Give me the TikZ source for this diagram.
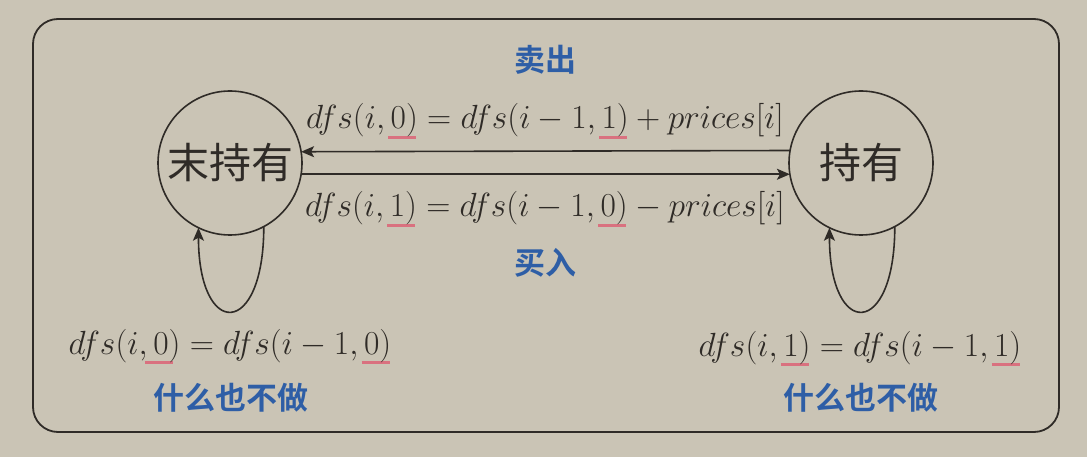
\RequirePackage{fix-cm}
\documentclass[tikz,border=0pt]{standalone}
\usepackage{fontspec}
\usetikzlibrary{arrows.meta}
\newfontfamily\cjk{Noto Sans CJK SC}
\newfontfamily\cjkb{Noto Sans CJK SC Bold}
\definecolor{bgc}{HTML}{CAC4B5}
\definecolor{inkc}{HTML}{2F2B27}
\definecolor{bluec}{HTML}{2E5EA6}
\definecolor{ulc}{HTML}{D9717F}
\newcommand\mk[2][8pt]{\mathord{\hbox{\ooalign{$#2$\cr\hidewidth\kern#1\textcolor{ulc}{\rule[-10pt]{28pt}{3.2pt}}\hidewidth\cr}}}}
\tikzset{
  state/.style={circle, draw=inkc, line width=1.6pt, minimum size=144pt, inner sep=0pt, outer sep=0pt, text=inkc, font=\cjk\fontsize{42}{46}\selectfont},
  conn/.style={draw=inkc, line width=1.6pt, -{Stealth[length=13pt,width=11pt,inset=3pt]}},
  eqn/.style={inner sep=0pt, anchor=base, text=inkc, font=\fontsize{33.5}{38}\selectfont},
  lab/.style={inner sep=0pt, text=bluec, font=\cjkb\fontsize{31}{34}\selectfont},
}
\begin{document}
\begin{tikzpicture}[x=1pt,y=-1pt]
\fill[bgc] (0,0) rectangle (1087,457);
\useasboundingbox (0,0) rectangle (1087,457);
\draw[inkc, line width=1.8pt, rounded corners=25pt] (33,19) rectangle (1059,432);

\node[state] (L) at (230,163) {末持有};
\node[state] (R) at (861,163) {持有};

\draw[conn] (R.170.4) -- (L.9.6);
\draw[conn] (L.-9.6) -- (R.189.6);

\draw[conn] (L.-62) .. controls +(0,112) and +(0,112) .. (L.-116);
\draw[conn] (R.-62) .. controls +(0,112) and +(0,112) .. (R.-116);

\node[eqn] (e1) at (545,129) {$dfs(i,\mk{0})=dfs(i-1,\mk{1})+prices[i]$};
\node[eqn] (e2) at (545,217) {$dfs(i,\mk{1})=dfs(i-1,\mk{0})-prices[i]$};
\node[eqn] (e3) at (230,354) {$dfs(i,\mk[-4pt]{0})=dfs(i-1,\mk{0})$};
\node[eqn] (e4) at (860,356) {$dfs(i,\mk{1})=dfs(i-1,\mk{1})$};

\node[lab] (sell) at (545,60) {卖出};
\node[lab] (buy) at (545,263) {买入};
\node[lab] (n1) at (231,398) {什么也不做};
\node[lab] (n2) at (861,398) {什么也不做};
\end{tikzpicture}
\end{document}
